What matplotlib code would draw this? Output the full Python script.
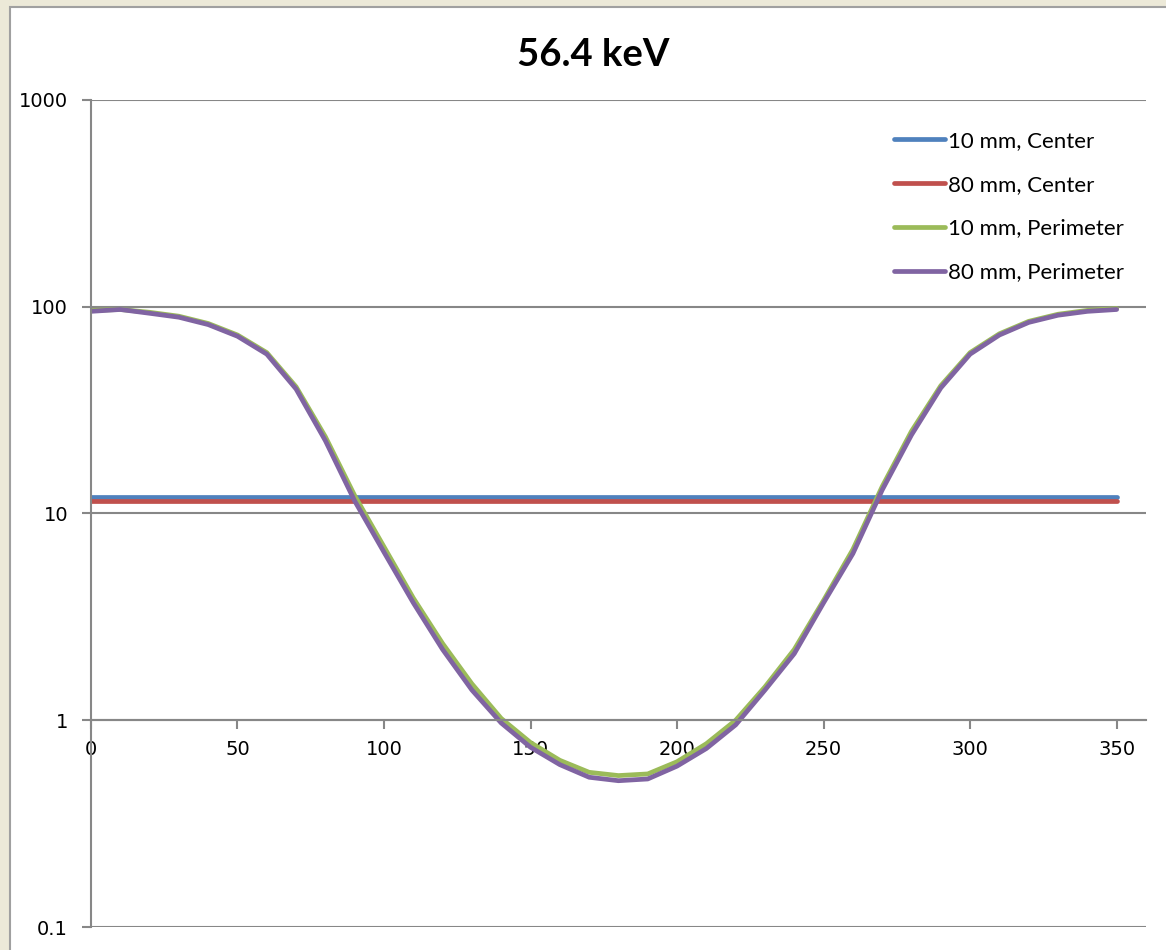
import matplotlib.pyplot as plt
from matplotlib.patches import Rectangle

# angle (deg) and dose values
angles = list(range(0, 360, 10))
center_10mm = [12.0] * len(angles)
center_80mm = [11.5] * len(angles)
perim_80mm = [95, 97, 93, 89, 82, 72, 59, 40, 22.5, 11.5,
              6.5, 3.7, 2.2, 1.4, 0.97, 0.74, 0.61, 0.53, 0.51, 0.52,
              0.60, 0.73, 0.95, 1.4, 2.1, 3.7, 6.4, 13.0, 24, 40.5,
              59, 73, 84, 91, 95, 97]
perim_10mm = [96, 97, 94, 90, 83, 73, 60, 41, 23.5, 12.2,
              6.9, 3.9, 2.35, 1.5, 1.02, 0.78, 0.64, 0.56, 0.54, 0.55,
              0.63, 0.77, 1.0, 1.45, 2.2, 3.8, 6.7, 13.5, 25, 41.5,
              60, 74, 85, 92, 96, 98]
labels = ["10 mm, Center", "80 mm, Center", "10 mm, Perimeter", "80 mm, Perimeter"]
colors = ["#4F81BD", "#C0504D", "#9BBB59", "#8064A2"]

out_file_name = "out.png"

fig = plt.figure(figsize=(11.66, 9.5), dpi=100)
fig.patch.set_facecolor("#ECE9D8")
fig.add_artist(Rectangle((10 / 1166, -0.01), 1.0, 1 - 7 / 950 + 0.01, transform=fig.transFigure,
                         facecolor="white", edgecolor="#A0A0A0", linewidth=1.5, zorder=0))

ax = fig.add_axes([0.0780, 0.02421, 0.9048, 0.87053])
ax.set_facecolor("none")

for ys, lab, c in zip([center_10mm, center_80mm, perim_10mm, perim_80mm], labels, colors):
    ax.plot(angles, ys, color=c, linewidth=3.4, label=lab, solid_capstyle="round")

ax.set_yscale("log")
ax.set_ylim(0.1, 1000)
ax.set_xlim(0, 360)
ax.set_xticks(range(0, 351, 50))
ax.set_yticks([0.1, 1, 10, 100, 1000])
ax.set_yticklabels(["0.1", "1", "10", "100", "1000"])
ax.minorticks_off()

ax.grid(True, axis="y", color="#878787", linewidth=1.5)
ax.spines["top"].set_visible(False)
ax.spines["right"].set_visible(False)
ax.spines["bottom"].set_position(("data", 1))
for s in ("left", "bottom"):
    ax.spines[s].set_color("#878787")
    ax.spines[s].set_linewidth(1.5)
ax.tick_params(axis="both", colors="#878787", labelcolor="black", width=1.5, length=6.5,
               labelsize=14, direction="out")
ax.tick_params(axis="y", pad=10)
ax.tick_params(axis="x", pad=8)

fig.text(0.5086, 1 - 55 / 950, "56.4 keV", ha="center", va="center",
         fontsize=27.5, fontweight="bold", family="Lato")

leg = ax.legend(loc="upper left", bbox_to_anchor=(894 / 1166, 1 - 131 / 950),
                bbox_transform=fig.transFigure, frameon=False,
                prop={"family": "Lato", "size": 16}, handlelength=2.3, handletextpad=0.13,
                labelspacing=1.07, borderpad=0, borderaxespad=0)

plt.savefig(out_file_name, facecolor=fig.get_facecolor())
